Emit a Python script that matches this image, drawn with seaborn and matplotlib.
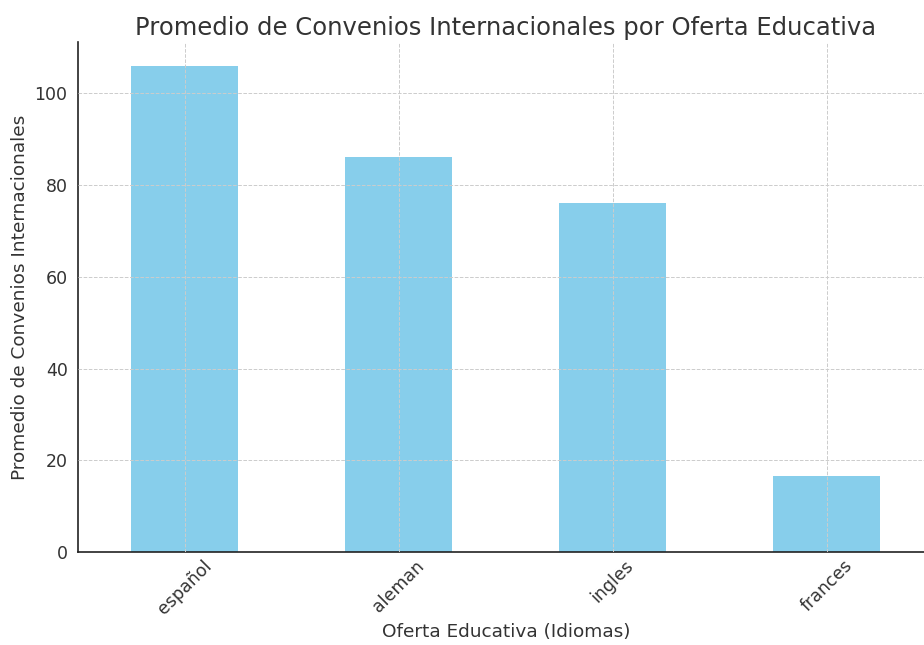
import matplotlib
matplotlib.use('Agg')
import matplotlib.pyplot as plt
import seaborn as sns
import pandas as pd

idiomas = ['español', 'aleman', 'ingles', 'frances']
promedios = [105.9, 86.1, 76.1, 16.5]

df = pd.DataFrame({'idioma': idiomas, 'promedio': promedios})

sns.set_style('white')
plt.rcParams['font.family'] = ['DejaVu Sans']
plt.rcParams['text.color'] = '#333333'
plt.rcParams['axes.labelcolor'] = '#333333'
plt.rcParams['xtick.color'] = '#333333'
plt.rcParams['ytick.color'] = '#333333'

fig = plt.figure(figsize=(9.24, 6.45), dpi=100)
ax = fig.add_axes([0.0844, 0.1442, 0.926, 0.7907])

sns.barplot(data=df, x='idioma', y='promedio', color='skyblue',
            saturation=1, width=0.5, linewidth=0, ax=ax)

ax.set_xlim(-0.5, 3.5)
ax.set_ylim(0, max(promedios) * 1.05)
ax.set_axisbelow(False)
ax.grid(True, linestyle='--', color='#cccccc', linewidth=0.7)

for s in ['top', 'right']:
    ax.spines[s].set_visible(False)
for s in ['left', 'bottom']:
    ax.spines[s].set_color('#222222')
    ax.spines[s].set_linewidth(1.2)

ax.tick_params(axis='both', labelsize=12.5, length=4, width=1, color='#222222')
ax.tick_params(axis='x', direction='in')
plt.setp(ax.get_xticklabels(), rotation=45)

ax.set_title('Promedio de Convenios Internacionales por Oferta Educativa',
             fontsize=17.5, pad=5)
ax.set_xlabel('Oferta Educativa (Idiomas)', fontsize=13.3)
ax.set_ylabel('Promedio de Convenios Internacionales', fontsize=13.3)

plt.savefig('out.png', dpi=100)
